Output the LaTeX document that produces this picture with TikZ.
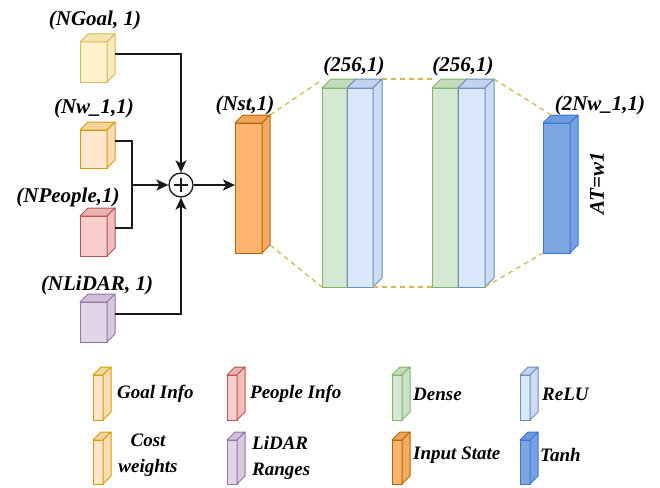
\documentclass[tikz,border=0pt]{standalone}
\usepackage{fontspec}
\setmainfont{Liberation Serif}
\usetikzlibrary{arrows.meta,calc}
\definecolor{goalF}{HTML}{FFF2CC}\definecolor{goalS}{HTML}{D6B656}
\definecolor{costF}{HTML}{FFE6CC}\definecolor{costS}{HTML}{D79B00}
\definecolor{peopF}{HTML}{F8CECC}\definecolor{peopS}{HTML}{B85450}
\definecolor{lidF}{HTML}{E1D5E7}\definecolor{lidS}{HTML}{9673A6}
\definecolor{inF}{HTML}{FFB570}\definecolor{inS}{HTML}{B46504}
\definecolor{denF}{HTML}{D5E8D4}\definecolor{denS}{HTML}{82B366}
\definecolor{reluF}{HTML}{DAE8FC}\definecolor{reluS}{HTML}{6C8EBF}
\definecolor{tanhF}{HTML}{7EA6E0}\definecolor{tanhS}{HTML}{3A76D8}
\definecolor{dashY}{HTML}{D6B656}
% name, x, y (front top-left), w, h, depth, fill, stroke
\newcommand{\cubeb}[8]{%
  \node[draw=#8, fill=#7, line width=1pt, minimum width=#4pt, minimum height=#5pt,
        inner sep=0pt, outer sep=0pt, anchor=north west] (#1) at (#2,#3) {};
  \draw[draw=#8, fill=#7!78!#8, line width=1pt, line join=round]
    (#1.north west) -- ++(#6pt,#6pt) -- ++(#4pt,0pt) -- (#1.north east) -- cycle;
  \draw[draw=#8, fill=#7!88!#8, line width=1pt, line join=round]
    (#1.north east) -- ++(#6pt,#6pt) -- ++(0pt,-#5pt) -- (#1.south east) -- cycle;
}
\tikzset{
  lbl/.style={font=\fontsize{21}{24}\selectfont\bfseries\itshape, inner sep=0pt},
  leg/.style={font=\fontsize{19}{26}\selectfont\bfseries\itshape, inner sep=0pt, anchor=west},
  conn/.style={line width=1.5pt, draw=black!90},
  arr/.style={conn, -{Stealth[length=12pt,width=11pt,inset=3pt]}},
  dsh/.style={draw=dashY, line width=1.3pt, dash pattern=on 5pt off 4pt},
}
\begin{document}
\begin{tikzpicture}[x=1pt,y=-1pt]
\useasboundingbox (0,0) rectangle (660,487);

% input cubes
\cubeb{goal}{80}{42}{27}{40}{8}{goalF}{goalS}
\cubeb{nw}{80}{130}{27}{38}{8}{costF}{costS}
\cubeb{people}{80}{216}{27}{40}{8}{peopF}{peopS}
\cubeb{lidar}{80}{302}{27}{40}{8}{lidF}{lidS}
\node[lbl] (lgoal) at (95,20) {(NGoal, 1)};
\node[lbl] (lnw) at (94,108) {(Nw\_1,1)};
\node[lbl] (lpeople) at (68,197) {(NPeople,1)};
\node[lbl] (llidar) at (97,285) {(NLiDAR, 1)};

% sum
\node[circle, draw=black!90, line width=1.3pt, minimum size=24pt, inner sep=0pt] (sum) at (181,185) {};
\draw[line width=1.3pt, black!90] ($(sum.center)+(-7pt,0pt)$) -- ($(sum.center)+(7pt,0pt)$);
\draw[line width=1.3pt, black!90] ($(sum.center)+(0pt,-7pt)$) -- ($(sum.center)+(0pt,7pt)$);
\coordinate (jn) at (132,185);

% network cubes
\cubeb{nst}{235}{123}{27}{130}{8}{inF}{inS}
\cubeb{d1}{322}{88}{25}{199}{9}{denF}{denS}
\cubeb{r1}{347}{88}{26}{199}{9}{reluF}{reluS}
\cubeb{d2}{432}{88}{26}{199}{9}{denF}{denS}
\cubeb{r2}{458}{88}{27}{199}{9}{reluF}{reluS}
\cubeb{tanh}{543}{123}{27}{130}{8}{tanhF}{tanhS}
\node[lbl] (lnst) at (245,105) {(Nst,1)};
\node[lbl] (l256a) at (354,66) {(256,1)};
\node[lbl] (l256b) at (463,66) {(256,1)};
\node[lbl] (ltanh) at (600,105) {(2Nw\_1,1)};
\node[lbl, rotate=90] (lat) at (597,183) {AT=w1};

% connectors
\draw[arr] ($(goal.east)+(8pt,8pt)$) -| (sum.north);
\draw[conn] ($(nw.east)+(8pt,8pt)$) -| (jn) |- ($(people.east)+(8pt,8pt)$);
\draw[arr] (jn) -- (sum.west);
\draw[arr] ($(lidar.east)+(8pt,8pt)$) -| (sum.south);
\draw[arr] (sum.east) -- (sum.east -| nst.west);

% dashed guides
\draw[dsh] ($(nst.north east)+(8pt,8pt)$) -- ($(d1.north west)+(0pt,8pt)$);
\draw[dsh] ($(r1.north east)+(9pt,9pt)$) -- ($(d2.north west)+(0pt,9pt)$);
\draw[dsh] ($(r2.north east)+(9pt,9pt)$) -- ($(tanh.north west)+(8pt,8pt)$);
\draw[dsh] ($(nst.south east)+(8pt,8pt)$) -- (d1.south west);
\draw[dsh] (r1.south east) -- (d2.south west);
\draw[dsh] (r2.south east) -- (tanh.south west);

% legend
\cubeb{lg1}{93}{375}{10}{45}{8}{costF}{costS}
\cubeb{lg2}{227}{375}{10}{45}{8}{peopF}{peopS}
\cubeb{lg3}{392}{375}{10}{45}{8}{denF}{denS}
\cubeb{lg4}{520}{375}{10}{45}{8}{reluF}{reluS}
\cubeb{lg5}{93}{440}{10}{44}{8}{costF}{costS}
\cubeb{lg6}{227}{440}{10}{44}{8}{lidF}{lidS}
\cubeb{lg7}{392}{440}{10}{44}{8}{inF}{inS}
\cubeb{lg8}{520}{440}{10}{44}{8}{tanhF}{tanhS}
\node[leg] (lt1) at (117,394) {Goal Info};
\node[leg] (lt2) at (250,394) {People Info};
\node[leg] (lt3) at (413,394) {Dense};
\node[leg] (lt4) at (542,394) {ReLU};
\node[leg, anchor=center, align=center] (lt5) at (148,455) {Cost\\weights};
\node[leg, align=left] (lt6) at (252,458) {LiDAR\\Ranges};
\node[leg] (lt7) at (413,455) {Input State};
\node[leg] (lt8) at (540,455) {Tanh};
\end{tikzpicture}
\end{document}
